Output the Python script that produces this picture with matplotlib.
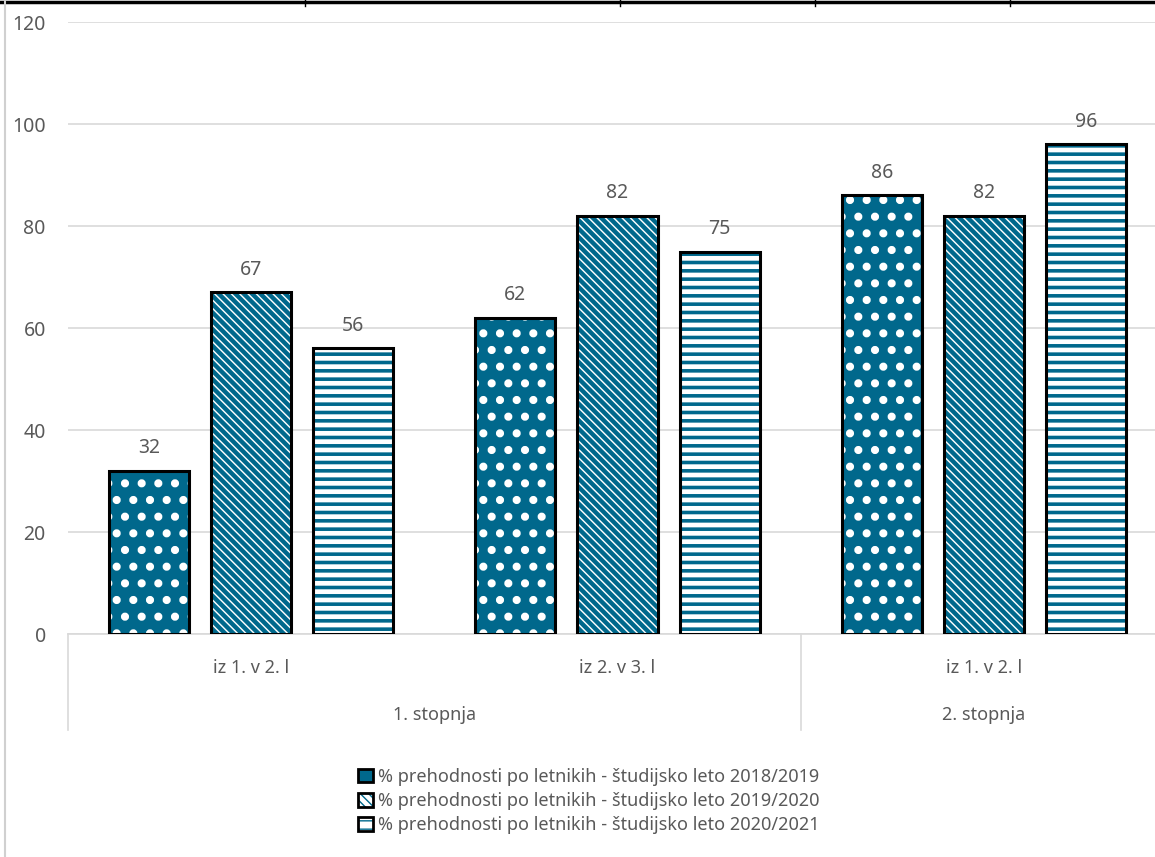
import numpy as np
import matplotlib
matplotlib.use('Agg')
import matplotlib.pyplot as plt
import matplotlib.transforms as mtransforms
from matplotlib.lines import Line2D
from matplotlib.patches import Patch
from matplotlib.legend_handler import HandlerTuple

plt.rcParams['font.family'] = ['Noto Sans', 'DejaVu Sans']

# data
categories = ['iz 1. v 2. l', 'iz 2. v 3. l', 'iz 1. v 2. l']
groups = ['1. stopnja', '2. stopnja']
group_sizes = [2, 1]
series_names = ['% prehodnosti po letnikih - študijsko leto 2018/2019',
                '% prehodnosti po letnikih - študijsko leto 2019/2020',
                '% prehodnosti po letnikih - študijsko leto 2020/2021']
values_2018 = [32, 62, 86]
values_2019 = [67, 82, 82]
values_2020 = [56, 75, 96]

teal = '#00688c'
text_col = '#595959'
grid_col = '#d9d9d9'

# (face, hatch colour, hatch, hatch linewidth)
styles = [(teal, 'white', '.', 3.4),
          ('white', teal, '\\\\\\\\', 3.2),
          ('white', teal, '--', 2.6)]

fig = plt.figure(figsize=(11.55, 8.57), dpi=100)
ax = fig.add_axes([68 / 1155, 1 - 634 / 857, 1099 / 1155, 612 / 857])

x = np.arange(len(categories))
width = 0.219
step = 0.279
series = [values_2018, values_2019, values_2020]
handles = []
for i, (vals, (face, hcol, hatch, hlw)) in enumerate(zip(series, styles)):
    pos = x + (i - 1) * step
    with plt.rc_context({'hatch.linewidth': hlw, 'hatch.color': hcol}):
        fill = ax.bar(pos, vals, width, color=face, edgecolor=hcol,
                      hatch=hatch, linewidth=0, zorder=3)
        for p in fill:
            if hasattr(p, 'set_hatch_linewidth'):
                p.set_hatch_linewidth(hlw)
        ax.bar(pos, vals, width, fill=False, edgecolor='black',
               linewidth=2.2, zorder=4)
        hp = Patch(facecolor=face, edgecolor=hcol, hatch=hatch, linewidth=0)
        if hasattr(hp, 'set_hatch_linewidth'):
            hp.set_hatch_linewidth(hlw)
    op = Patch(facecolor='none', edgecolor='black', linewidth=2)
    handles.append((hp, op))
    for xp, v in zip(pos, vals):
        ax.annotate(str(v), (xp, v), xytext=(0, 9), textcoords='offset points',
                    ha='center', va='bottom', fontsize=14, color=text_col)

ax.set_xlim(-0.5, len(categories) - 0.5)
ax.set_ylim(0, 120)
ax.set_yticks(np.arange(0, 121, 20))
ax.yaxis.grid(True, color=grid_col, linewidth=1.2, zorder=0)
ax.set_axisbelow(True)
ax.tick_params(axis='y', length=0, pad=16, labelsize=14, labelcolor=text_col)
ax.tick_params(axis='x', length=0)
ax.set_xticks([])
for s in ['top', 'right', 'left']:
    ax.spines[s].set_visible(False)
ax.spines['bottom'].set_color(grid_col)
ax.spines['bottom'].set_linewidth(1.2)

# multi-level category axis
trans = mtransforms.blended_transform_factory(ax.transData, ax.transAxes)
for xi, lab in zip(x, categories):
    ax.text(xi, -0.056, lab, transform=trans, ha='center', va='center',
            fontsize=13, color=text_col)
start = 0
bounds = [-0.5]
for g, n in zip(groups, group_sizes):
    ax.text(start + (n - 1) / 2, -0.132, g, transform=trans, ha='center',
            va='center', fontsize=13, color=text_col)
    start += n
    bounds.append(start - 0.5)
for b in bounds:
    ax.add_line(Line2D([b, b], [0, -0.157], transform=trans, color=grid_col,
                       linewidth=1.2, clip_on=False))

fig.legend(handles, series_names, handler_map={tuple: HandlerTuple(ndivide=1)},
           loc='center', bbox_to_anchor=(0.51, 1 - 801 / 857), frameon=False,
           fontsize=13, labelcolor=text_col, handlelength=0.8, handleheight=0.8,
           handletextpad=0.3, labelspacing=0.35)

# cropped borders visible at the edges of the original picture
fig.add_artist(Line2D([0, 1], [0.998, 0.998], color='black', linewidth=2.5))
for xb in [305, 620, 815, 1010]:
    fig.add_artist(Line2D([xb / 1155] * 2, [0.993, 1], color='black', linewidth=1))
fig.add_artist(Line2D([5 / 1155] * 2, [0, 1], color='#d0d0d0', linewidth=1.5))

fig.savefig('out.png', dpi=100)
